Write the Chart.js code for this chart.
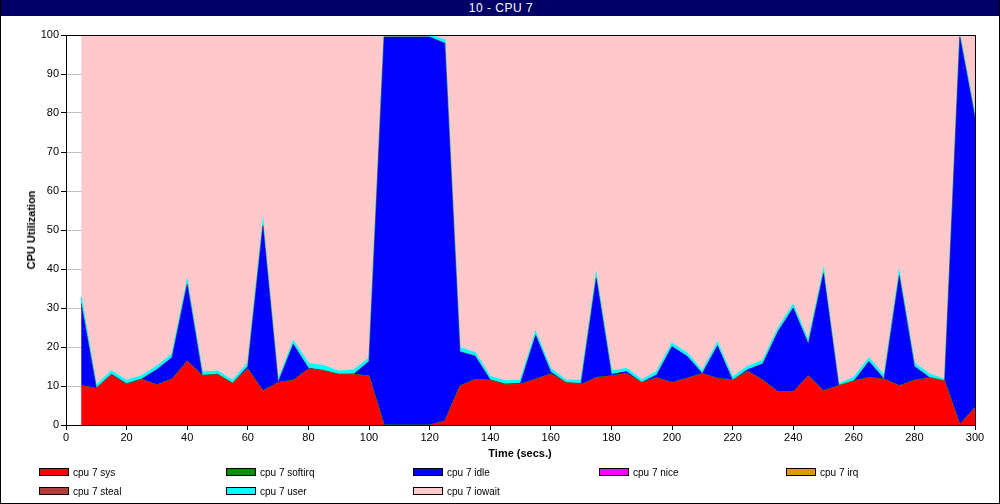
<!DOCTYPE html>
<html>
<head>
<meta charset="utf-8">
<script src="https://cdn.jsdelivr.net/npm/chart.js@4/dist/chart.umd.min.js"></script>
<style>
html,body{margin:0;padding:0;background:#fff;}
#wrap{position:relative;width:1000px;height:504px;box-sizing:border-box;border:1px solid #000;border-top:none;overflow:hidden;font-family:"Liberation Sans",Arial,sans-serif;}
#titlebar{position:absolute;left:0;top:0;width:1000px;height:16px;background:#000066;color:#fff;font-size:12px;letter-spacing:0.5px;line-height:16px;text-align:center;z-index:2;}
#c{position:absolute;left:-1px;top:0;}
.ytitle{position:absolute;left:30px;top:230px;transform:translate(-50%,-50%) rotate(-90deg);font-weight:bold;font-size:11px;white-space:nowrap;}
.xtitle{position:absolute;left:519px;top:453px;transform:translate(-50%,-50%);font-weight:bold;font-size:11px;white-space:nowrap;}
.leg{position:absolute;font-size:10px;white-space:nowrap;line-height:12px;}
.leg span.box{display:inline-block;width:28px;height:6px;border:1px solid #000;vertical-align:middle;margin-right:4px;position:relative;top:-1px;}
</style>
</head>
<body>
<div id="wrap">
<div id="titlebar">10 - CPU 7</div>
<canvas id="c" width="1000" height="504"></canvas>
<div class="ytitle">CPU Utilization</div>
<div class="xtitle">Time (secs.)</div>
<div id="legend"></div>
</div>
<script>
const chartTitle = "10 - CPU 7";
const times = [5,10,15,20,25,30,35,40,45,50,55,60,65,70,75,80,85,90,95,100,105,110,115,120,125,130,135,140,145,150,155,160,165,170,175,180,185,190,195,200,205,210,215,220,225,230,235,240,245,250,255,260,265,270,275,280,285,290,295,300];
const sysVals = [10.1,9.4,12.8,10.4,11.7,10.3,11.8,16.4,12.7,13.0,10.7,14.4,8.8,10.9,11.5,14.4,13.9,13.0,13.0,12.6,0,0,0,0,1.0,10.0,11.7,11.5,10.4,10.5,11.8,13.1,10.9,10.4,12.2,12.6,13.2,10.9,12.1,10.9,12.0,13.2,12.0,11.5,13.8,11.5,8.5,8.5,12.6,8.8,10.1,11.3,12.2,11.8,10.1,11.5,12.1,11.3,0.2,4.5];
const softirqVals = [0,0,0,0,0,0,0,0,0,0,0,0,0,0,0,0,0,0,0,0,0,0,0,0,0,0,0,0,0,0,0,0,0,0,0,0,0,0,0,0,0,0,0,0,0,0,0,0,0,0,0,0,0,0,0,0,0,0,0,0];
const idleVals = [21.1,0.1,0.2,0.2,0.1,3.9,5.5,19.7,0.0,0.0,0.0,0.6,42.3,0.0,9.2,0.2,0.1,0.0,0.1,3.7,99.5,99.5,99.5,99.5,96.9,8.8,6.0,0.1,0.1,0.2,11.2,0.5,0.0,0.2,25.5,0.4,0.5,0.0,0.8,9.2,5.6,0.0,8.3,0.0,0.4,4.2,15.5,21.5,8.2,30.1,0.0,0.0,4.1,0.0,28.2,3.5,0.1,0.0,99.3,74.2];
const niceVals = [0,0,0,0,0,0,0,0,0,0,0,0,0,0,0,0,0,0,0,0,0,0,0,0,0,0,0,0,0,0,0,0,0,0,0,0,0,0,0,0,0,0,0,0,0,0,0,0,0,0,0,0,0,0,0,0,0,0,0,0];
const irqVals = [0,0,0,0,0,0,0,0,0,0,0,0,0,0,0,0,0,0,0,0,0,0,0,0,0,0,0,0,0,0,0,0,0,0,0,0,0,0,0,0,0,0,0,0,0,0,0,0,0,0,0,0,0,0,0,0,0,0,0,0];
const stealVals = [0,0,0,0,0,0,0,0,0,0,0,0,0,0,0,0,0,0,0,0,0,0,0,0,0,0,0,0,0,0,0,0,0,0,0,0,0,0,0,0,0,0,0,0,0,0,0,0,0,0,0,0,0,0,0,0,0,0,0,0];
const userVals = [1.5,0.6,0.8,0.8,0.8,0.8,0.8,0.8,0.8,0.8,0.7,0.8,0.8,0.6,0.8,1.2,1.2,0.7,1.0,0.8,0.5,0.5,0.5,0.5,0.8,1.0,0.8,0.8,0.8,0.8,0.8,0.8,0.6,0.8,0.8,0.8,0.8,0.6,0.8,0.8,0.8,0.6,0.8,0.7,0.8,0.8,0.8,0.8,0.8,0.8,0.4,0.8,0.8,0.8,0.8,0.8,0.8,0.4,0.5,0.8];
const iowaitVals = [67.3,89.9,86.2,88.6,87.4,85.0,81.9,63.1,86.5,86.2,88.6,84.2,48.1,88.5,78.5,84.2,84.8,86.3,85.9,82.9,0,0,0,0,1.3,80.2,81.5,87.6,88.7,88.5,76.2,85.6,88.5,88.6,61.5,86.2,85.5,88.5,86.3,79.1,81.6,86.2,78.9,87.8,85.0,83.5,75.2,69.2,78.4,60.3,89.5,87.9,82.9,87.4,60.9,84.2,87.0,88.3,0,20.5];
const yTicks = [0,10,20,30,40,50,60,70,80,90,100];
const xTicks = [0,20,40,60,80,100,120,140,160,180,200,220,240,260,280,300];

const seriesNames = ["cpu 7 sys","cpu 7 softirq","cpu 7 idle","cpu 7 nice","cpu 7 irq","cpu 7 steal","cpu 7 user","cpu 7 iowait"];
const seriesColors = ["#ff0000","#009100","#0000ff","#ff00ff","#e09a00","#b03c3c","#00ffff","#ffc9cc"];
const seriesBorders = [0,1,0,0,0,1,1.5,0];
const allVals = [sysVals,softirqVals,idleVals,niceVals,irqVals,stealVals,userVals,iowaitVals];

const datasets = allVals.map((vals,i)=>({
  label: seriesNames[i],
  data: times.map((t,j)=>({x:t,y:vals[j]})),
  backgroundColor: seriesColors[i],
  borderColor: seriesColors[i],
  borderWidth: seriesBorders[i],
  fill: i===0 ? 'origin' : '-1',
  pointRadius: 0,
  tension: 0
}));

const frame = {
  id:'frame',
  afterDatasetsDraw(chart){
    const a = chart.chartArea, ctx = chart.ctx;
    ctx.save();
    ctx.strokeStyle = '#000';
    ctx.lineWidth = 1;
    ctx.strokeRect(Math.round(a.left)+0.5, Math.round(a.top)+0.5, Math.round(a.right-a.left), Math.round(a.bottom-a.top));
    ctx.restore();
  }
};

const tickFont = {family:"'Liberation Sans Narrow','Liberation Sans',Arial,sans-serif", size:11};

new Chart(document.getElementById('c'), {
  type:'line',
  data:{datasets},
  plugins:[frame],
  options:{
    responsive:false,
    animation:false,
    layout:{padding:{left:0,top:35,right:25,bottom:39}},
    plugins:{legend:{display:false},tooltip:{enabled:false},title:{display:false}},
    scales:{
      x:{
        type:'linear', min:0, max:300,
        afterFit(s){ s.height = 40; },
        afterBuildTicks(s){ s.ticks = xTicks.map(v=>({value:v})); },
        grid:{drawOnChartArea:false, color:'#000', tickColor:'#000', tickLength:5},
        border:{color:'#000', width:1},
        ticks:{color:'#000', font:tickFont, padding:1, maxRotation:0, autoSkip:false}
      },
      y:{
        stacked:true, min:0, max:100,
        afterFit(s){ s.width = 66; },
        afterBuildTicks(s){ s.ticks = yTicks.map(v=>({value:v})); },
        grid:{color:'#c0c0c0', tickColor:'#000', tickLength:5},
        border:{color:'#000', width:1},
        ticks:{color:'#000', font:tickFont, padding:2}
      }
    }
  }
});

// legend
const legPos = [[38,467],[225,467],[412,467],[598,467],[785,467],[38,486],[225,486],[412,486]];
const leg = document.getElementById('legend');
seriesNames.forEach((n,i)=>{
  const d = document.createElement('div');
  d.className='leg';
  d.style.left = legPos[i][0]+'px';
  d.style.top = legPos[i][1]+'px';
  const b = document.createElement('span');
  b.className='box';
  b.style.background = seriesColors[i];
  d.appendChild(b);
  d.appendChild(document.createTextNode(n));
  leg.appendChild(d);
});
</script>
</body>
</html>
